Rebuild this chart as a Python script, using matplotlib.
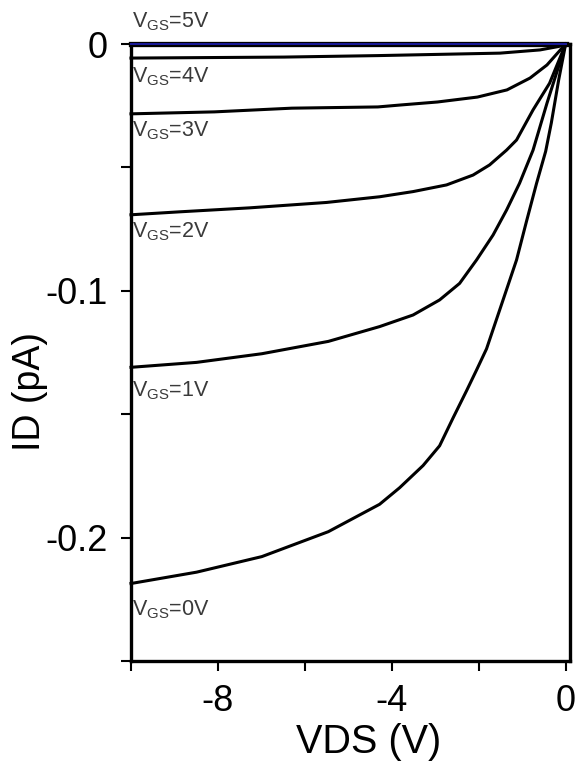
import matplotlib
matplotlib.use("Agg")
import matplotlib.pyplot as plt
import matplotlib.patheffects as pe

# Ausgangskennlinien ID(VDS) für verschiedene VGS
vds_0 = [-10, -8.49, -6.99, -5.46, -4.28, -3.82, -3.28, -2.90, -2.59, -2.28, -2.05, -1.82,
         -1.44, -1.13, -0.90, -0.67, -0.46, -0.33, -0.16, 0]
id_0 = [-0.2186, -0.214, -0.2077, -0.1976, -0.1865, -0.1798, -0.1708, -0.1628, -0.1515, -0.1405,
        -0.1321, -0.1235, -0.1037, -0.0875, -0.0718, -0.0565, -0.0435, -0.032, -0.0145, 0]

vds_1 = [-10, -8.49, -6.99, -5.46, -4.28, -3.51, -2.90, -2.44, -2.05, -1.67, -1.36, -1.06,
         -0.75, -0.43, -0.16, 0]
id_1 = [-0.131, -0.129, -0.1255, -0.1205, -0.1145, -0.1098, -0.1037, -0.097, -0.0875, -0.0774,
        -0.0673, -0.0564, -0.043, -0.024, -0.009, 0]

vds_2 = [-10, -8.88, -7.28, -5.5, -4.28, -3.51, -2.74, -2.13, -1.75, -1.36, -1.13, -0.75, -0.37, 0]
id_2 = [-0.0692, -0.0680, -0.0664, -0.0642, -0.0619, -0.0598, -0.0571, -0.0531, -0.049, -0.043,
        -0.0389, -0.0267, -0.0159, 0]

vds_3 = [-10, -8.08, -6.3, -4.32, -3.79, -2.95, -2.03, -1.35, -0.82, -0.43, 0]
id_3 = [-0.0283, -0.0275, -0.026, -0.0255, -0.0247, -0.0235, -0.0215, -0.0186, -0.0138, -0.0085, 0]

vds_4 = [-10, -6.48, -4.32, -1.51, -0.59, -0.16, 0]
id_4 = [-0.0057, -0.0053, -0.0047, -0.0037, -0.0024, -0.001, 0]

vds_5 = [-10, 0]
id_5 = [0, 0]

vgs_labels = ["V$_{\\mathrm{GS}}$=0V", "V$_{\\mathrm{GS}}$=1V", "V$_{\\mathrm{GS}}$=2V",
              "V$_{\\mathrm{GS}}$=3V", "V$_{\\mathrm{GS}}$=4V", "V$_{\\mathrm{GS}}$=5V"]

xticks = [-10, -8, -6, -4, -2, 0]
xtick_labels = ["", "-8", "", "-4", "", "0"]
yticks = [0, -0.05, -0.1, -0.15, -0.2, -0.25]
ytick_labels = ["0", "", "-0.1", "", "-0.2", ""]

plt.rcParams['font.family'] = ['Liberation Sans', 'DejaVu Sans']
plt.rcParams['mathtext.fontset'] = 'custom'
plt.rcParams['mathtext.rm'] = 'Liberation Sans'
plt.rcParams['mathtext.it'] = 'Liberation Sans:italic'
plt.rcParams['axes.unicode_minus'] = False

fig = plt.figure(figsize=(5.75, 7.68), dpi=100)
ax = fig.add_axes([131 / 575, 1 - 661 / 768, (570 - 131) / 575, (661 - 44) / 768])

curves = [(vds_0, id_0), (vds_1, id_1), (vds_2, id_2), (vds_3, id_3), (vds_4, id_4)]
for vx, vy in curves:
    ax.plot(vx, vy, color='black', lw=2.2, clip_on=False, zorder=3)

# VGS=5V: blaue Linie mit schwarzem Rand auf der Nulllinie
ax.plot(vds_5, id_5, color='#1a1a9a', lw=1.4, clip_on=False, zorder=5,
        path_effects=[pe.Stroke(linewidth=3.8, foreground='black'), pe.Normal()])

# Beschriftungen unter dem Anfang jeder Kurve
gaps = [9.4, 7.2, 2.2, 2.2, 3.6]
for (vx, vy), lab, g in zip(curves, vgs_labels[:5], gaps):
    ax.annotate(lab, xy=(vx[0], vy[0]), xytext=(1, -g - 1.5), textcoords='offset points',
                ha='left', va='top', fontsize=15.5, color='#3a3a3a', annotation_clip=False)
ax.annotate(vgs_labels[5], xy=(vds_5[0], id_5[0]), xytext=(1, 8), textcoords='offset points',
            ha='left', va='bottom', fontsize=15.5, color='#3a3a3a', annotation_clip=False)

ax.set_xlim(-10, 0.1)
ax.set_ylim(-0.25, 0)

ax.set_xticks(xticks, xtick_labels)
ax.set_yticks(yticks, ytick_labels)
ax.tick_params(axis='both', direction='out', length=7, width=1.5, labelsize=26, pad=9.5)

for side in ['left', 'bottom', 'right', 'top']:
    ax.spines[side].set_linewidth(2.4)

ax.set_xlabel("VDS (V)", fontsize=28.5)
ax.xaxis.set_label_coords(0.542, -0.100)
ax.xaxis.label.set_va('top')
ax.set_ylabel("ID (pA)", fontsize=27)
ax.yaxis.set_label_coords(-0.189, 0.436)

fig.savefig("out.png", dpi=100)
